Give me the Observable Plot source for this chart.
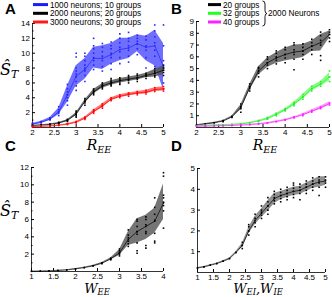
<!DOCTYPE html>
<html><head><meta charset="utf-8">
<script src="https://cdn.jsdelivr.net/npm/d3@7"></script>
<script src="https://cdn.jsdelivr.net/npm/@observablehq/plot@0.6"></script>
<style>
body{margin:0;background:#fff;}
#wrap{position:relative;width:332px;height:297px;overflow:hidden;}
.p{position:absolute;}
#ov{position:absolute;left:0;top:0;pointer-events:none;overflow:visible;}
</style></head>
<body><div id="wrap"></div>
<script>
// ---------- data ----------
const xR = [2,2.2,2.4,2.6,2.8,3,3.2,3.4,3.6,3.8,4,4.2,4.4,4.6,4.8,5];
const xW = [1,1.2,1.4,1.6,1.8,2,2.2,2.4,2.6,2.8,3,3.2,3.4,3.6,3.8,4];
const xD = [1,1.2,1.4,1.6,1.8,2,2.2,2.4,2.6,2.8,3,3.2,3.4,3.6,3.8,4,4.2,4.4,4.6,4.8,5];

// Panel A
const blueMean = [0.45,0.7,1.15,2.1,4.4,6.9,7.8,9.3,9.3,9.8,10.5,10.7,11.3,10.8,11.0,8.2];
const blueLo   = [0.35,0.55,0.95,1.7,3.4,5.6,6.5,8.0,7.8,8.5,9.0,9.3,10.2,9.0,8.3,5.1];
const blueHi   = [0.55,0.85,1.35,2.6,5.6,8.3,9.3,10.8,11.0,11.3,12.0,12.0,12.5,12.3,13.1,11.3];
const blueScatter = [[0.4,0.5,0.6],[0.6,0.7,0.8],[1.0,1.1,1.2,1.3],[1.6,1.9,2.1,2.4,2.8],
  [3.0,3.6,4.0,4.4,4.8,5.2,5.8],[5.0,5.6,6.2,6.8,7.2,7.6,8.0,9.5,10.0],[6.2,7.0,7.6,8.0,8.4,9.0,9.6,10.0],
  [7.8,8.4,9.0,9.4,10.0,10.6,11.0,12.0],[7.6,8.2,9.0,9.6,10.2,10.8,11.3],[7.8,8.6,9.4,10.0,10.6,11.0,11.5],
  [8.6,9.4,10.2,10.8,11.4,12.0,12.6],[8.8,9.6,10.4,11.0,11.6,12.0,12.8],[9.8,10.6,11.2,11.6,12.0,12.4],
  [8.0,9.4,10.4,11.0,11.8,12.3],[8.2,9.6,10.4,11.4,12.2,13.0,13.8],[5.2,6.0,8.0,9.0,11.0,13.8]];
const blackAMean = [0.25,0.32,0.42,0.6,0.95,1.8,3.5,4.8,5.6,6.0,6.3,6.5,6.7,7.0,7.3,7.7];
const blackALo   = [0.2,0.27,0.37,0.52,0.85,1.6,3.3,4.5,5.3,5.7,6.0,6.2,6.4,6.7,6.8,7.1];
const blackAHi   = [0.3,0.37,0.47,0.68,1.05,2.0,3.7,5.1,5.9,6.3,6.6,6.8,7.0,7.3,7.8,8.3];
const blackAScatter = [[0.2,0.3],[0.3,0.35],[0.4,0.45],[0.5,0.6,0.7],[0.8,0.9,1.0,1.1],[1.4,1.6,1.8,2.0,2.2],
  [3.0,3.3,3.5,3.7,3.9],[4.4,4.6,4.8,5.0,5.2],[5.2,5.4,5.6,5.8,6.0],[5.6,5.8,6.0,6.2,6.4,6.6],
  [5.8,6.0,6.3,6.5,6.7],[6.0,6.3,6.5,6.8,7.0],[6.2,6.5,6.7,7.0,7.2],[6.6,6.9,7.1,7.3],
  [6.8,7.0,7.3,7.6,7.9],[7.0,7.4,7.7,8.0,8.4]];
const redMean = [0.12,0.15,0.2,0.3,0.45,0.7,1.25,2.15,2.9,3.8,4.2,4.45,4.65,4.75,5.1,5.2];
const redLo   = [0.08,0.11,0.16,0.25,0.38,0.6,1.1,1.95,2.65,3.6,4.0,4.25,4.45,4.5,4.85,4.9];
const redHi   = [0.16,0.19,0.24,0.35,0.52,0.8,1.4,2.35,3.15,4.0,4.4,4.65,4.85,5.0,5.35,5.5];
const redScatter = [[0.1,0.14],[0.13,0.17],[0.18,0.22],[0.27,0.33],[0.4,0.5],[0.6,0.7,0.8],
  [1.1,1.25,1.4],[1.9,2.1,2.3,2.4],[2.6,2.8,3.0,3.2],[3.6,3.8,4.0],[4.0,4.2,4.4],[4.2,4.45,4.65],
  [4.4,4.6,4.85],[4.5,4.75,5.0],[4.85,5.1,5.35],[4.9,5.2,5.5]];

// Panel B
const blackBMean = [0.2,0.3,0.4,0.55,0.9,1.7,3.4,4.8,5.5,5.9,6.2,6.4,6.5,6.9,7.2,7.9];
const blackBLo   = [0.17,0.26,0.35,0.5,0.82,1.5,3.15,4.45,5.1,5.45,5.65,5.8,5.95,6.45,6.5,7.6];
const blackBHi   = [0.23,0.34,0.45,0.6,0.98,1.9,3.65,5.15,5.9,6.35,6.75,7.0,7.05,7.35,7.9,8.2];
const blackBScatter = [[0.2],[0.3],[0.4],[0.5,0.6],[0.85,0.95],[1.3,1.6,1.8,2.0],[3.1,3.3,3.5,3.7],
  [4.3,4.6,4.8,5.0,5.1],[5.0,5.3,5.5,5.8,6.0],[5.4,5.7,6.0,6.3,6.5],[5.5,5.9,6.2,6.6,6.8],
  [4.9,5.8,6.2,6.6,7.0,7.2],[5.8,6.2,6.5,6.8,7.1],[6.2,6.6,6.9,7.2,7.5],[5.7,6.1,7.0,7.4,7.8,8.1],
  [7.3,7.6,7.9,8.1,8.3]];
const greenMean = [0.15,0.17,0.2,0.22,0.25,0.3,0.4,0.55,0.75,1.1,1.5,2.0,2.6,3.3,3.7,4.3];
const greenLo   = [0.12,0.14,0.17,0.19,0.22,0.26,0.35,0.5,0.68,1.0,1.4,1.85,2.4,3.1,3.5,3.95];
const greenHi   = [0.18,0.2,0.23,0.25,0.28,0.34,0.45,0.6,0.82,1.2,1.6,2.15,2.8,3.5,3.9,4.65];
const greenScatter = [[0.15],[0.17],[0.2],[0.22],[0.25],[0.3],[0.4],[0.5,0.6],[0.7,0.8,0.85],
  [1.0,1.1,1.2],[1.4,1.5,1.6],[1.85,2.0,2.15],[2.4,2.6,2.8],[3.1,3.3,3.5],[3.5,3.7,3.9],[3.9,4.3,4.8]];
const magMean = [0.1,0.11,0.13,0.15,0.17,0.2,0.24,0.3,0.38,0.5,0.65,0.85,1.08,1.38,1.68,2.02];
const magLo   = [0.08,0.09,0.11,0.13,0.15,0.17,0.21,0.26,0.34,0.45,0.6,0.79,1.0,1.28,1.56,1.88];
const magHi   = [0.12,0.13,0.15,0.17,0.19,0.23,0.27,0.34,0.42,0.55,0.7,0.91,1.16,1.48,1.8,2.16];
const magScatter = [[0.1],[0.11],[0.13],[0.15],[0.17],[0.2],[0.24],[0.3],[0.38],[0.5],[0.62,0.68],
  [0.8,0.9],[1.0,1.15],[1.3,1.45],[1.6,1.75],[1.9,2.1]];

// Panel C
const cMean = [0.02,0.04,0.07,0.11,0.18,0.3,0.45,0.65,0.95,1.45,2.15,3.7,4.6,5.2,5.8,7.9];
const cLo   = [0.01,0.03,0.05,0.09,0.15,0.26,0.4,0.58,0.87,1.35,1.85,3.0,3.3,3.7,4.4,6.0];
const cHi   = [0.03,0.05,0.09,0.13,0.21,0.34,0.5,0.72,1.03,1.55,2.5,4.6,6.1,6.5,7.3,10.1];
const cScatter = [[0.02],[0.04],[0.07],[0.11],[0.18],[0.3],[0.45],[0.65],[0.9,1.0],[1.35,1.45,1.55],
  [1.8,2.0,2.2,2.4,2.6],[2.9,3.2,3.5,3.9,4.2,4.8],[2.1,2.4,3.3,4.3,4.6,5.2,5.8,6.0],
  [2.7,3.0,4.4,4.6,5.4,6.0,6.3],[3.3,3.5,4.4,5.9,6.6,7.4,8.5],[5.0,7.0,7.6,8.0,8.5,8.8,11.0,11.4]];

// Panel D
const dMean = [0.22,0.27,0.35,0.43,0.54,0.67,0.96,1.3,2.0,2.5,2.85,3.2,3.55,3.7,3.8,3.9,3.95,4.1,4.25,4.35,4.4];
const dLo   = [0.2,0.25,0.33,0.41,0.51,0.64,0.92,1.2,1.85,2.3,2.65,2.95,3.3,3.5,3.6,3.7,3.75,3.9,4.05,4.1,4.2];
const dHi   = [0.24,0.29,0.37,0.45,0.57,0.7,1.0,1.4,2.15,2.7,3.05,3.45,3.8,3.9,4.0,4.1,4.15,4.3,4.45,4.6,4.6];
const dScatter = [[0.22],[0.27],[0.35],[0.43],[0.54],[0.67],[0.96],[1.15,1.3,1.45],[1.8,2.0,2.2,2.3],
  [2.2,2.4,2.6,2.8],[2.6,2.75,2.9,3.0,3.2],[2.8,3.0,3.2,3.4,3.6],[3.3,3.45,3.6,3.75,3.9],
  [3.4,3.55,3.7,3.85,4.0],[3.5,3.65,3.8,3.95,4.1],[3.6,3.75,3.9,4.05,4.2,4.3],[3.5,3.8,3.95,4.1,4.25],
  [3.8,3.95,4.1,4.25,4.4],[3.95,4.1,4.25,4.4,4.55],[3.7,4.1,4.3,4.45,4.6],[4.1,4.3,4.45,4.6]];

// ticks
const xTicksR = [2,2.5,3,3.5,4,4.5,5];
const yTicksA = [2,4,6,8,10,12,14];
const yTicksB = [1,2,3,4,5,6,7,8,9];
const xTicksW = [1,1.5,2,2.5,3,3.5,4];
const yTicksC = [2,4,6,8,10,12];
const xTicksD = [1,1.5,2,2.5,3,3.5,4,4.5,5];
const yTicksD = [1,2,3,4,5];

// legend labels
const legendA = ["1000 neurons; 10 groups","2000 neurons; 20 groups","3000 neurons; 30 groups"];
const legendAColors = ["#1a1aff","#000000","#ff1a1a"];
const legendB = ["20 groups","32 groups","40 groups"];
const legendBColors = ["#000000","#22ff22","#ff22ff"];
const legendBNote = "2000 Neurons";

// ---------- helpers ----------
const FONT = "'Liberation Sans',Arial,sans-serif";
const fmt = d => String(d);
function rows(xs, m, lo, hi){ return xs.map((x,i)=>({x, m:m[i], lo:lo[i], hi:hi[i]})); }
function pts(xs, sc){ return sc.flatMap((v,i)=>v.map(y=>({x:xs[i], y}))); }
function series(xs, m, lo, hi, sc, band, col, bandOp){
  const r = rows(xs,m,lo,hi);
  return [
    Plot.areaY(r, {x:"x", y1:"lo", y2:"hi", fill:band, fillOpacity:bandOp}),
    Plot.dot(pts(xs,sc), {x:"x", y:"y", r:0.9, fill:col, symbol:"square"}),
    Plot.line(r, {x:"x", y:"m", stroke:col, strokeWidth:0.7}),
    Plot.dot(r, {x:"x", y:"m", r:0.8, fill:col, symbol:"square"})
  ];
}
function axes(xd, yd, xt, yt, yMinor){
  return [
    Plot.ruleX([xd[0]], {stroke:"#000", strokeWidth:0.8}),
    Plot.ruleY([yd[0]], {stroke:"#000", strokeWidth:0.8}),
    Plot.axisX({ticks:xt, tickSize:-3, tickPadding:5, tickFormat:fmt, label:null, fontSize:8}),
    Plot.axisY({ticks:yt, tickSize:-3, tickPadding:5.5, tickFormat:fmt, label:null, fontSize:8}),
    Plot.axisY({ticks:yMinor, tickSize:-1.5, text:null, label:null})
  ];
}
function panel(pos, opts, marks){
  const svg = Plot.plot({
    width:pos.w, height:pos.h,
    marginLeft:opts.ml, marginRight:opts.mr, marginTop:opts.mt, marginBottom:opts.mb,
    x:{domain:opts.xd}, y:{domain:opts.yd},
    style:{overflow:"visible", fontFamily:FONT, fontSize:"8px", color:"#000", background:"transparent"},
    marks
  });
  svg.classList.add("p");
  svg.style.left = pos.l+"px"; svg.style.top = pos.t+"px";
  document.getElementById("wrap").appendChild(svg);
}

// Panel A
panel({l:0,t:0,w:166,h:148},{ml:32,mr:3,mt:23,mb:21,xd:[2,5],yd:[0,14]},[
  ...axes([2,5],[0,14],xTicksR,yTicksA,[1,3,5,7,9,11,13]),
  ...series(xR,blueMean,blueLo,blueHi,blueScatter,"#5f5fff","#2323ff",0.9),
  ...series(xR,blackAMean,blackALo,blackAHi,blackAScatter,"#555","#000",0.85),
  ...series(xR,redMean,redLo,redHi,redScatter,"#ff6a6a","#ff0000",0.95)
]);
// Panel B
panel({l:166,t:0,w:166,h:148},{ml:30,mr:3,mt:21,mb:21,xd:[2,5],yd:[0,9]},[
  ...axes([2,5],[0,9],xTicksR,yTicksB,[]),
  ...series(xR,blackBMean,blackBLo,blackBHi,blackBScatter,"#666","#000",0.9),
  ...series(xR,greenMean,greenLo,greenHi,greenScatter,"#7dff7d","#22ee22",0.95),
  ...series(xR,magMean,magLo,magHi,magScatter,"#ff8cff","#ff22ff",0.95)
]);
// Panel C
panel({l:0,t:148,w:166,h:149},{ml:31,mr:3,mt:19,mb:26,xd:[1,4],yd:[0,12]},[
  ...axes([1,4],[0,12],xTicksW,yTicksC,[1,3,5,7,9,11]),
  ...series(xW,cMean,cLo,cHi,cScatter,"#6e6e6e","#000",0.95)
]);
// Panel D
panel({l:166,t:148,w:166,h:149},{ml:31,mr:7,mt:20,mb:25,xd:[1,5],yd:[0,5]},[
  ...axes([1,5],[0,5],xTicksD,yTicksD,[]),
  ...series(xD,dMean,dLo,dHi,dScatter,"#8a8a8a","#000",0.95)
]);

// ---------- text overlay (SVG) ----------
const NS = "http://www.w3.org/2000/svg";
const ov = document.createElementNS(NS,"svg");
ov.setAttribute("id","ov"); ov.setAttribute("width",332); ov.setAttribute("height",297);
document.getElementById("wrap").appendChild(ov);
function el(tag, attrs, parent){
  const e = document.createElementNS(NS, tag);
  for (const k in attrs) e.setAttribute(k, attrs[k]);
  (parent||ov).appendChild(e); return e;
}
function txt(str, attrs, parent){ const t = el("text", attrs, parent); if (str!=null) t.textContent = str; return t; }
// panel letters
[["A",5,13.5],["B",171,13.5],["C",5,151],["D",171,151]].forEach(([s,x,y])=>
  txt(s,{x,y,"font-family":FONT,"font-weight":"bold","font-size":15,fill:"#000"}));
// math labels with subscripts
const MF = "'DejaVu Serif','Liberation Serif',serif";
function mathSeq(parts, x, y, size, anchor, subDy, subScale){
  subDy = subDy == null ? 3 : subDy; subScale = subScale || 0.68;
  const t = txt(null,{x,y,"font-family":MF,"font-style":"italic","font-size":size,"text-anchor":anchor||"middle",fill:"#000"});
  let down = false;
  parts.forEach(([s,sub])=>{
    const a = {"font-size": sub ? size*subScale : size};
    if (sub && !down){ a.dy = subDy; down = true; }
    else if (!sub && down){ a.dy = -subDy; down = false; }
    el("tspan", a, t).textContent = s;
  });
  return t;
}
mathSeq([["Ŝ",0],["T",1]], 0, 75, 16, "start");
mathSeq([["Ŝ",0],["T",1]], 0, 216, 16, "start");
mathSeq([["R",0],["EE",1]], 99, 150, 14);
mathSeq([["R",0],["EE",1]], 265, 150, 14);
mathSeq([["W",0],["EE",1]], 97, 293, 13, "middle", 2, 0.64);
mathSeq([["W",0],["EI",1],[",",0],["W",0],["IE",1]], 258, 293, 13, "middle", 2, 0.64);
// legends
legendA.forEach((s,i)=>{
  const y = [4.6,13.3,22][i];
  el("line",{x1:33,x2:48,y1:y,y2:y,stroke:legendAColors[i],"stroke-width":3});
  txt(s,{x:50,y:y+2.9,"font-family":FONT,"font-size":8.2,fill:"#000"});
});
legendB.forEach((s,i)=>{
  const y = [4.6,13.3,22][i];
  el("line",{x1:208,x2:221,y1:y,y2:y,stroke:legendBColors[i],"stroke-width":3});
  txt(s,{x:223,y:y+2.9,"font-family":FONT,"font-size":8.2,fill:"#000"});
});
// brace
el("path",{d:"M262.5,1 Q265,1 265,4 L265,10.5 Q265,13.5 267,13.5 Q265,13.5 265,16.5 L265,23 Q265,26 262.5,26",
  fill:"none",stroke:"#000","stroke-width":0.9});
txt(legendBNote,{x:268,y:16.3,"font-family":FONT,"font-size":8.2,fill:"#000"});
</script></body></html>
